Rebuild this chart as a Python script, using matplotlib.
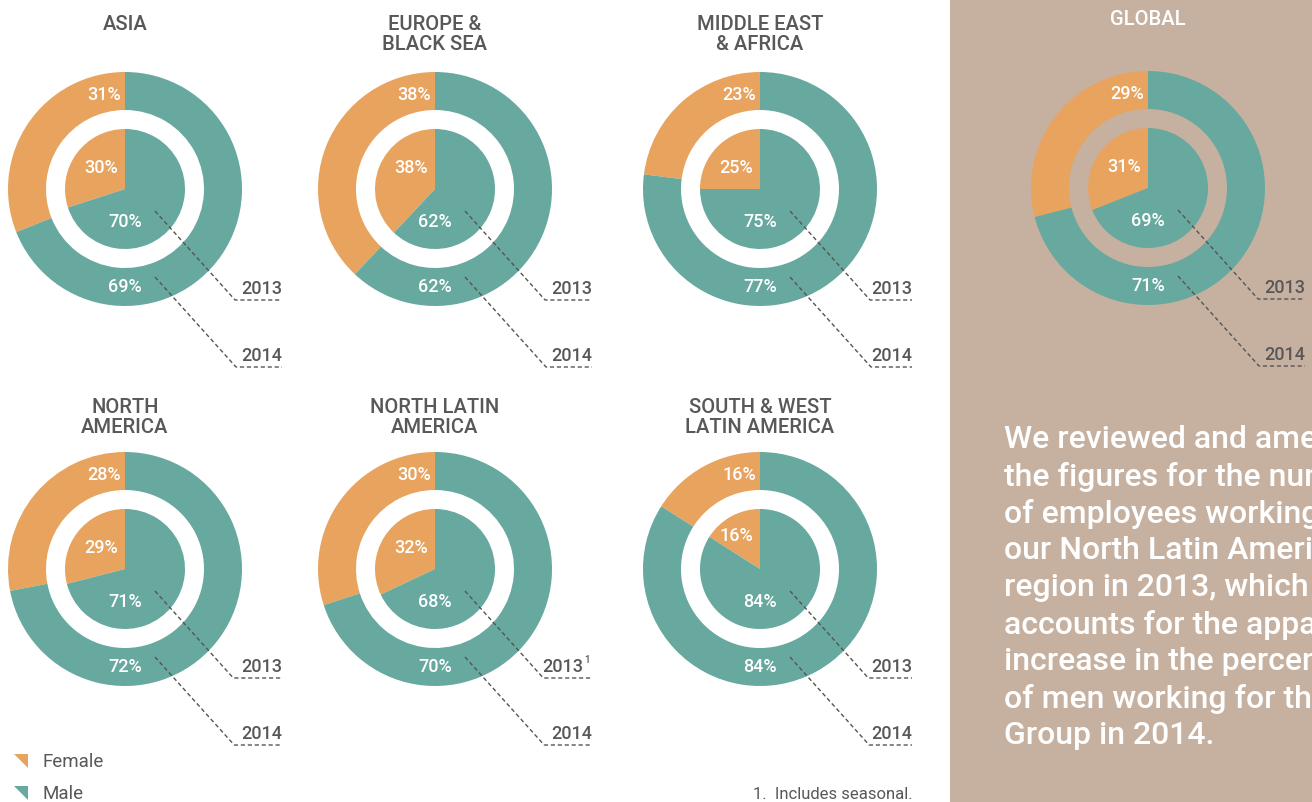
import numpy as np
import matplotlib.pyplot as plt
from matplotlib.patches import Rectangle

plt.rcParams['font.family'] = ['Roboto', 'DejaVu Sans']
plt.rcParams['font.weight'] = 'medium'

# data (percent)
regions = ["ASIA", "EUROPE &\nBLACK SEA", "MIDDLE EAST\n& AFRICA",
           "NORTH\nAMERICA", "NORTH LATIN\nAMERICA", "SOUTH & WEST\nLATIN AMERICA",
           "GLOBAL"]
female_2013 = [30, 38, 25, 29, 32, 16, 31]
male_2013 = [70, 62, 75, 71, 68, 84, 69]
female_2014 = [31, 38, 23, 28, 30, 16, 29]
male_2014 = [69, 62, 77, 72, 70, 84, 71]
year_labels = ["2013", "2014"]

panel_text = ["We reviewed and amended",
              "the figures for the number",
              "of employees working in",
              "our North Latin America",
              "region in 2013, which",
              "accounts for the apparent",
              "increase in the percentage",
              "of men working for the",
              "Group in 2014."]

# layout (pixels, y measured from top)
W, H = 1312, 803
cxs = [125, 435, 760, 125, 435, 760, 1148]
cys = [190, 190, 190, 570, 570, 570, 189]

ORANGE = '#e8a35e'
TEAL = '#67a89f'
GRAY = '#58585a'
PANEL = '#c6b1a1'

fig = plt.figure(figsize=(13.12, 8.03), dpi=100)
ax = fig.add_axes([0, 0, 1, 1])

def Y(y):
    return H - y

ax.add_patch(Rectangle((950, 0), W - 950, H, color=PANEL, zorder=0, lw=0))

for i in range(len(regions)):
    cx, cy = cxs[i], cys[i]
    # outer ring 2014
    ax.pie([female_2014[i], male_2014[i]], colors=[ORANGE, TEAL], startangle=90,
           counterclock=True, radius=117, center=(cx, Y(cy)),
           wedgeprops=dict(width=38, linewidth=0))
    # inner pie 2013
    ax.pie([female_2013[i], male_2013[i]], colors=[ORANGE, TEAL], startangle=90,
           counterclock=True, radius=60, center=(cx, Y(cy)),
           wedgeprops=dict(linewidth=0))

    # percentage labels
    ax.text(cx - 4, Y(cy - 95), f"{female_2014[i]}%", color='white', fontsize=13,
            ha='right', va='center')
    dy = 22 if female_2013[i] >= 20 else 34
    ax.text(cx - 24, Y(cy - dy), f"{female_2013[i]}%", color='white', fontsize=13,
            ha='center', va='center')
    ax.text(cx, Y(cy + 32), f"{male_2013[i]}%", color='white', fontsize=13,
            ha='center', va='center')
    ax.text(cx, Y(cy + 97), f"{male_2014[i]}%", color='white', fontsize=13,
            ha='center', va='center')

    # title
    tcol = 'white' if regions[i] == "GLOBAL" else GRAY
    ty = 10 if regions[i] == "GLOBAL" else (15 if i < 3 else 398)
    ax.text(cx, Y(ty), regions[i], color=tcol, fontsize=14.5, ha='center', va='top',
            linespacing=1.08)

    # leader lines
    xend = cx + 157 if i not in (2, 5) else cx + 152
    row_off = [111, 178] if i < 3 or i == 6 else [109, 176]
    for k, (sy, ey) in enumerate(zip([22, 88], row_off)):
        xs = [cx + 30, cx + 30 + (ey - sy) * 0.9, xend]
        ys = [Y(cy + sy), Y(cy + ey), Y(cy + ey)]
        ax.plot(xs, ys, color='#555555', lw=1, ls=(0, (3, 2)))
        lab = year_labels[k]
        if i == 4 and k == 0:
            ax.text(xend - 9, Y(cy + ey - 3), lab, color=GRAY, fontsize=13,
                    ha='right', va='bottom')
            ax.text(xend - 8, Y(cy + ey - 14), "1", color=GRAY, fontsize=7,
                    ha='left', va='bottom')
        else:
            ax.text(xend, Y(cy + ey - 3), lab, color=GRAY, fontsize=13,
                    ha='right', va='bottom')

# legend
tri = [(-1, 1), (1, 1), (1, -1)]
ax.scatter([21], [Y(762)], marker=tri, s=110, color=ORANGE, lw=0)
ax.scatter([21], [Y(794)], marker=tri, s=110, color=TEAL, lw=0)
ax.text(43, Y(762), "Female", color=GRAY, fontsize=13.5, va='center',
        fontweight='normal')
ax.text(43, Y(794), "Male", color=GRAY, fontsize=13.5, va='center',
        fontweight='normal')

# footnote
ax.text(913, Y(795), "1.  Includes seasonal.", color=GRAY, fontsize=12,
        ha='right', va='center', fontweight='normal')

# panel note
for j, line in enumerate(panel_text):
    ax.text(1004, Y(440 + 37 * j), line, color='white', fontsize=23,
            ha='left', va='center')

ax.set_xlim(0, W)
ax.set_ylim(0, H)
ax.set_aspect('auto')
ax.axis('off')

fig.savefig('out.png', dpi=100)
